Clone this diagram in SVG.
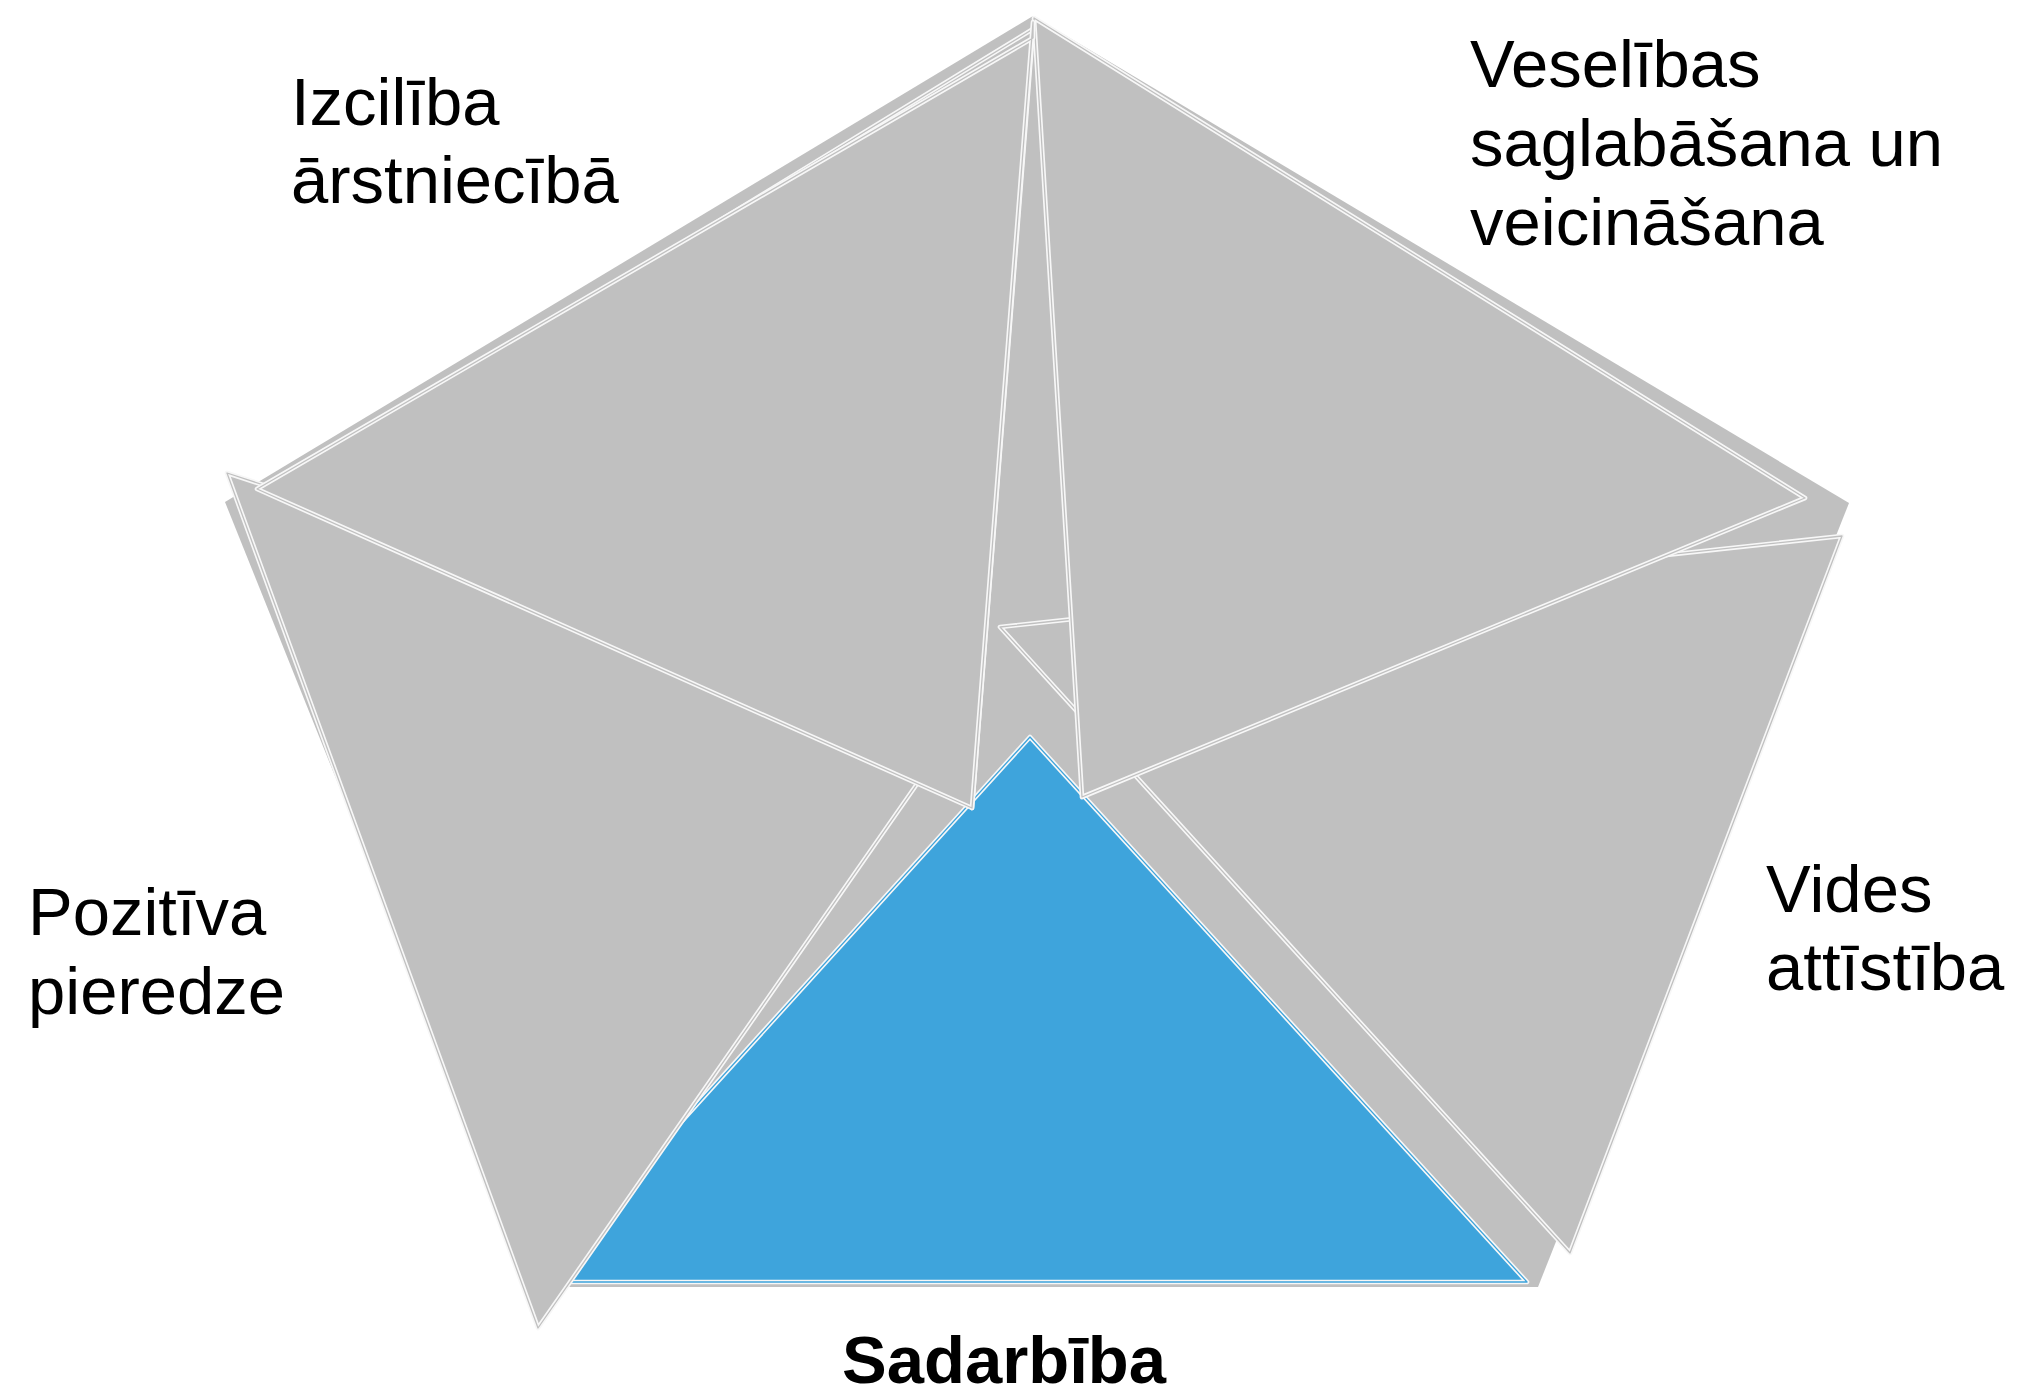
<svg xmlns="http://www.w3.org/2000/svg" xmlns:xlink="http://www.w3.org/1999/xlink" width="2017" height="1395" viewBox="0 0 2017 1395">
<style>
.bg{fill:#c0c0c0;stroke:none}
.go{fill:#c0c0c0;stroke:#f7f7f7;stroke-width:4.6;stroke-linejoin:round}
.gi{fill:none;stroke:#c0c0c0;stroke-width:1.3;stroke-linejoin:round}
.bo{fill:#3ea4dc;stroke:#f7f7f7;stroke-width:4.6;stroke-linejoin:round}
.bi{fill:none;stroke:#3ea4dc;stroke-width:1.3;stroke-linejoin:round}
.t{font-family:"Liberation Sans",Arial,sans-serif;font-size:67px;fill:#000}
.tb{font-family:"Liberation Sans",Arial,sans-serif;font-size:67px;font-weight:bold;fill:#000}
</style>
<defs>
<polygon id="pRight" points="1000,627 1842,536 1570,1253"/>
<polygon id="pBlue" points="1030,737 1527,1282 536,1282"/>
<polygon id="pLeft" points="227,473 965,715 538,1328"/>
<polygon id="pTopRight" points="1034,18 1805,498 1082,797"/>
<polygon id="pTopLeftBack" points="1033,29 560,318 972,808"/>
<polygon id="pTopLeft" points="1033,38 1033,22 972,808 257,489"/>
</defs>
<g id="background">
<polygon class="bg" points="1033,16 1849,503 1538,1287 540,1287 225,502"/>
</g>
<g id="node-vides">
<use xlink:href="#pRight" class="go"/><use xlink:href="#pRight" class="gi"/>
</g>
<g id="node-sadarbiba">
<use xlink:href="#pBlue" class="bo"/><use xlink:href="#pBlue" class="bi"/>
</g>
<g id="node-pozitiva">
<use xlink:href="#pLeft" class="go"/><use xlink:href="#pLeft" class="gi"/>
</g>
<g id="node-veselibas">
<use xlink:href="#pTopRight" class="go"/><use xlink:href="#pTopRight" class="gi"/>
</g>
<g id="node-izciliba">
<use xlink:href="#pTopLeftBack" class="go"/><use xlink:href="#pTopLeftBack" class="gi"/>
<use xlink:href="#pTopLeft" class="go"/><use xlink:href="#pTopLeft" class="gi"/>
</g>
<g id="connectors"></g>
<g id="labels">
<text class="t" x="291" y="125">Izcilība</text>
<text class="t" x="291" y="203">ārstniecībā</text>
<text class="t" x="1470" y="87">Veselības</text>
<text class="t" x="1470" y="166">saglabāšana un</text>
<text class="t" x="1470" y="245">veicināšana</text>
<text class="t" x="28" y="935">Pozitīva</text>
<text class="t" x="28" y="1014">pieredze</text>
<text class="t" x="1766" y="912">Vides</text>
<text class="t" x="1766" y="990">attīstība</text>
<text class="tb" x="1004" y="1383" text-anchor="middle">Sadarbība</text>
</g>
</svg>
